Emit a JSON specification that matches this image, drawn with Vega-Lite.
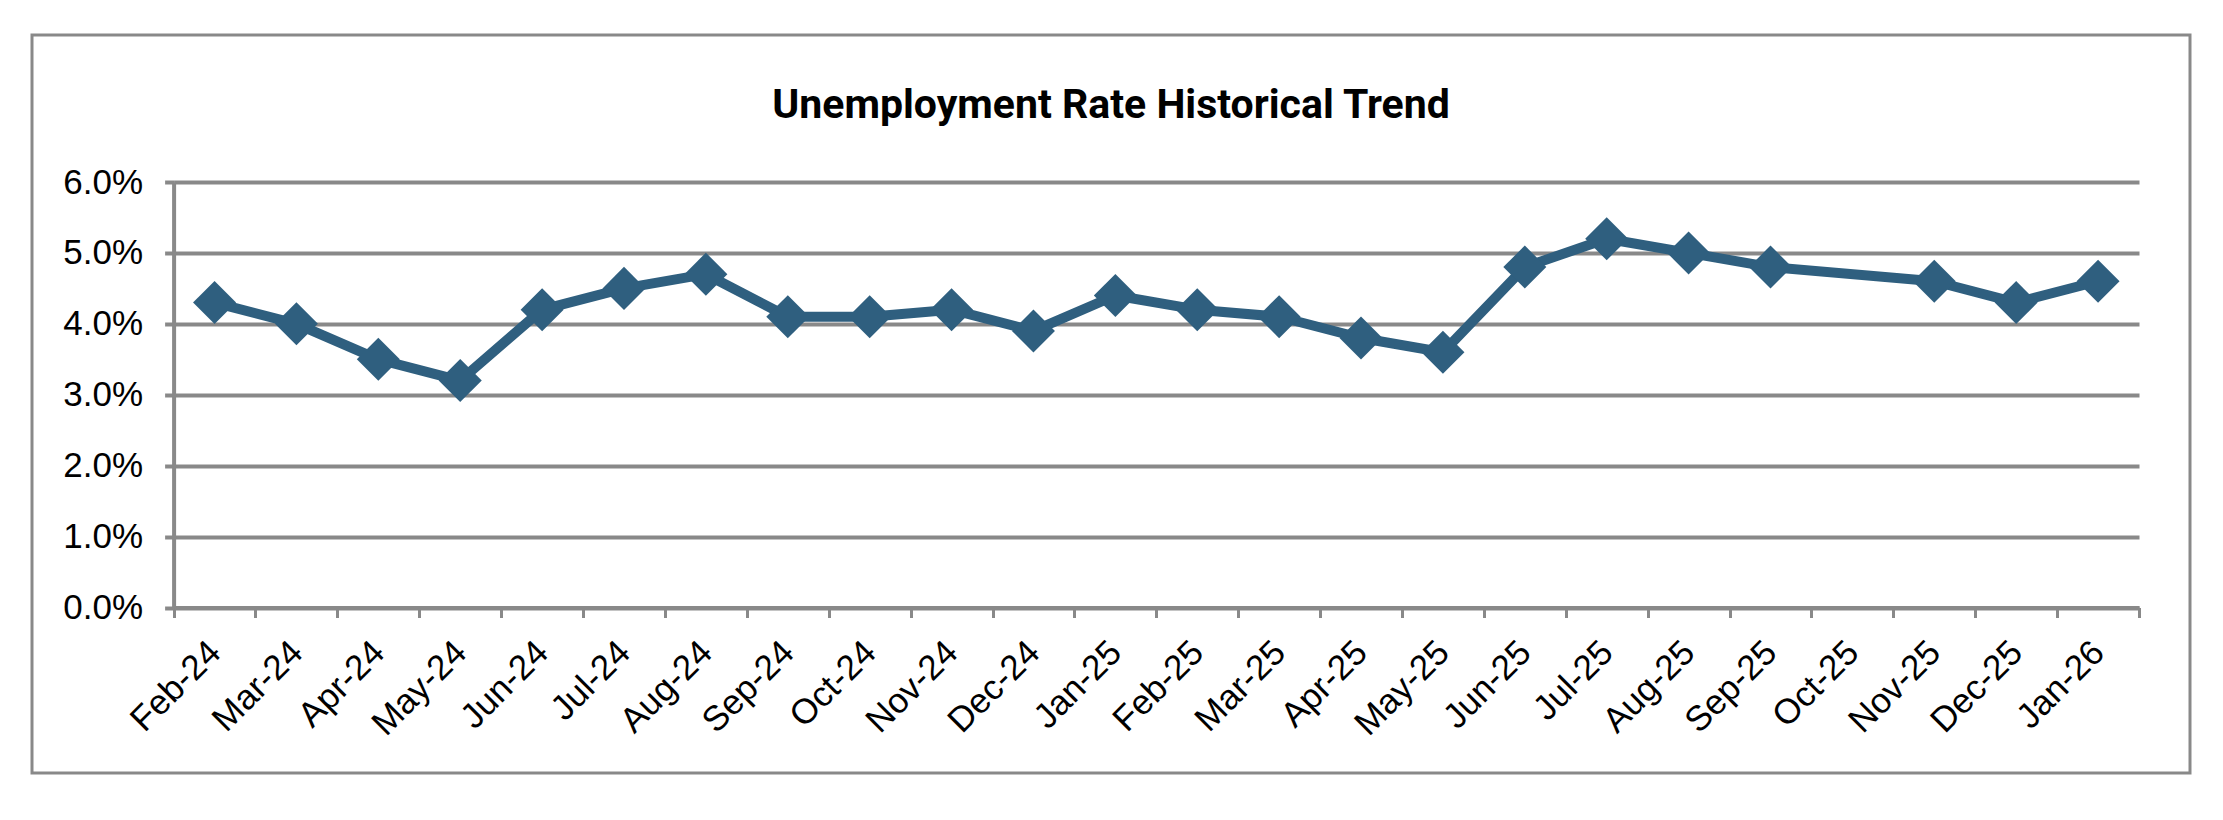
{
  "$schema": "https://vega.github.io/schema/vega-lite/v6.json",
  "autosize": {"type": "none"},
  "padding": {"left": 32, "top": 35, "right": 33, "bottom": 47},
  "width": 2158,
  "height": 738,
  "background": "white",
  "title": {
    "text": "Unemployment Rate Historical Trend",
    "font": "Roboto, sans-serif",
    "fontSize": 41,
    "fontWeight": "bold",
    "color": "#000000",
    "anchor": "middle",
    "baseline": "alphabetic",
    "offset": -124
  },
  "data": {
    "values": [
      {"month": "Feb-24", "rate": 0.043},
      {"month": "Mar-24", "rate": 0.040},
      {"month": "Apr-24", "rate": 0.035},
      {"month": "May-24", "rate": 0.032},
      {"month": "Jun-24", "rate": 0.042},
      {"month": "Jul-24", "rate": 0.045},
      {"month": "Aug-24", "rate": 0.047},
      {"month": "Sep-24", "rate": 0.041},
      {"month": "Oct-24", "rate": 0.041},
      {"month": "Nov-24", "rate": 0.042},
      {"month": "Dec-24", "rate": 0.039},
      {"month": "Jan-25", "rate": 0.044},
      {"month": "Feb-25", "rate": 0.042},
      {"month": "Mar-25", "rate": 0.041},
      {"month": "Apr-25", "rate": 0.038},
      {"month": "May-25", "rate": 0.036},
      {"month": "Jun-25", "rate": 0.048},
      {"month": "Jul-25", "rate": 0.052},
      {"month": "Aug-25", "rate": 0.050},
      {"month": "Sep-25", "rate": 0.048},
      {"month": "Nov-25", "rate": 0.046},
      {"month": "Dec-25", "rate": 0.043},
      {"month": "Jan-26", "rate": 0.046}
    ]
  },
  "encoding": {
    "x": {
      "field": "month",
      "type": "nominal",
      "sort": null,
      "scale": {
        "type": "band",
        "domain": ["Feb-24", "Mar-24", "Apr-24", "May-24", "Jun-24", "Jul-24", "Aug-24", "Sep-24", "Oct-24", "Nov-24", "Dec-24", "Jan-25", "Feb-25", "Mar-25", "Apr-25", "May-25", "Jun-25", "Jul-25", "Aug-25", "Sep-25", "Oct-25", "Nov-25", "Dec-25", "Jan-26"],
        "range": [141.6, 2107],
        "paddingInner": 0,
        "paddingOuter": 0
      },
      "axis": {
        "orient": "bottom",
        "offset": -165.5,
        "title": null,
        "grid": false,
        "tickBand": "extent",
        "domainColor": "#898989",
        "domainWidth": 4,
        "tickColor": "#898989",
        "tickWidth": 3,
        "tickSize": 10,
        "labelAngle": -45,
        "labelAlign": "right",
        "labelBaseline": "middle",
        "labelFont": "Liberation Sans, Arial, sans-serif",
        "labelFontSize": 35,
        "labelColor": "#000000",
        "labelPadding": 29
      }
    },
    "y": {
      "field": "rate",
      "type": "quantitative",
      "scale": {"domain": [0, 0.06], "range": [572.5, 147], "nice": false, "zero": true},
      "axis": {
        "orient": "left",
        "offset": -141.6,
        "title": null,
        "values": [0, 0.01, 0.02, 0.03, 0.04, 0.05, 0.06],
        "format": ".1%",
        "grid": true,
        "gridColor": "#898989",
        "gridWidth": 4,
        "domainColor": "#898989",
        "domainWidth": 4,
        "tickColor": "#898989",
        "tickWidth": 4,
        "tickSize": 9,
        "labelFont": "Liberation Sans, Arial, sans-serif",
        "labelFontSize": 35,
        "labelColor": "#000000",
        "labelPadding": 22
      }
    }
  },
  "layer": [
    {"mark": {"type": "line", "color": "#2F5F7F", "strokeWidth": 10, "strokeJoin": "round"}},
    {"mark": {"type": "point", "shape": "diamond", "filled": true, "size": 1850, "color": "#2F5F7F", "opacity": 1}}
  ],
  "config": {"view": {"stroke": "#898989", "strokeWidth": 3}}
}
